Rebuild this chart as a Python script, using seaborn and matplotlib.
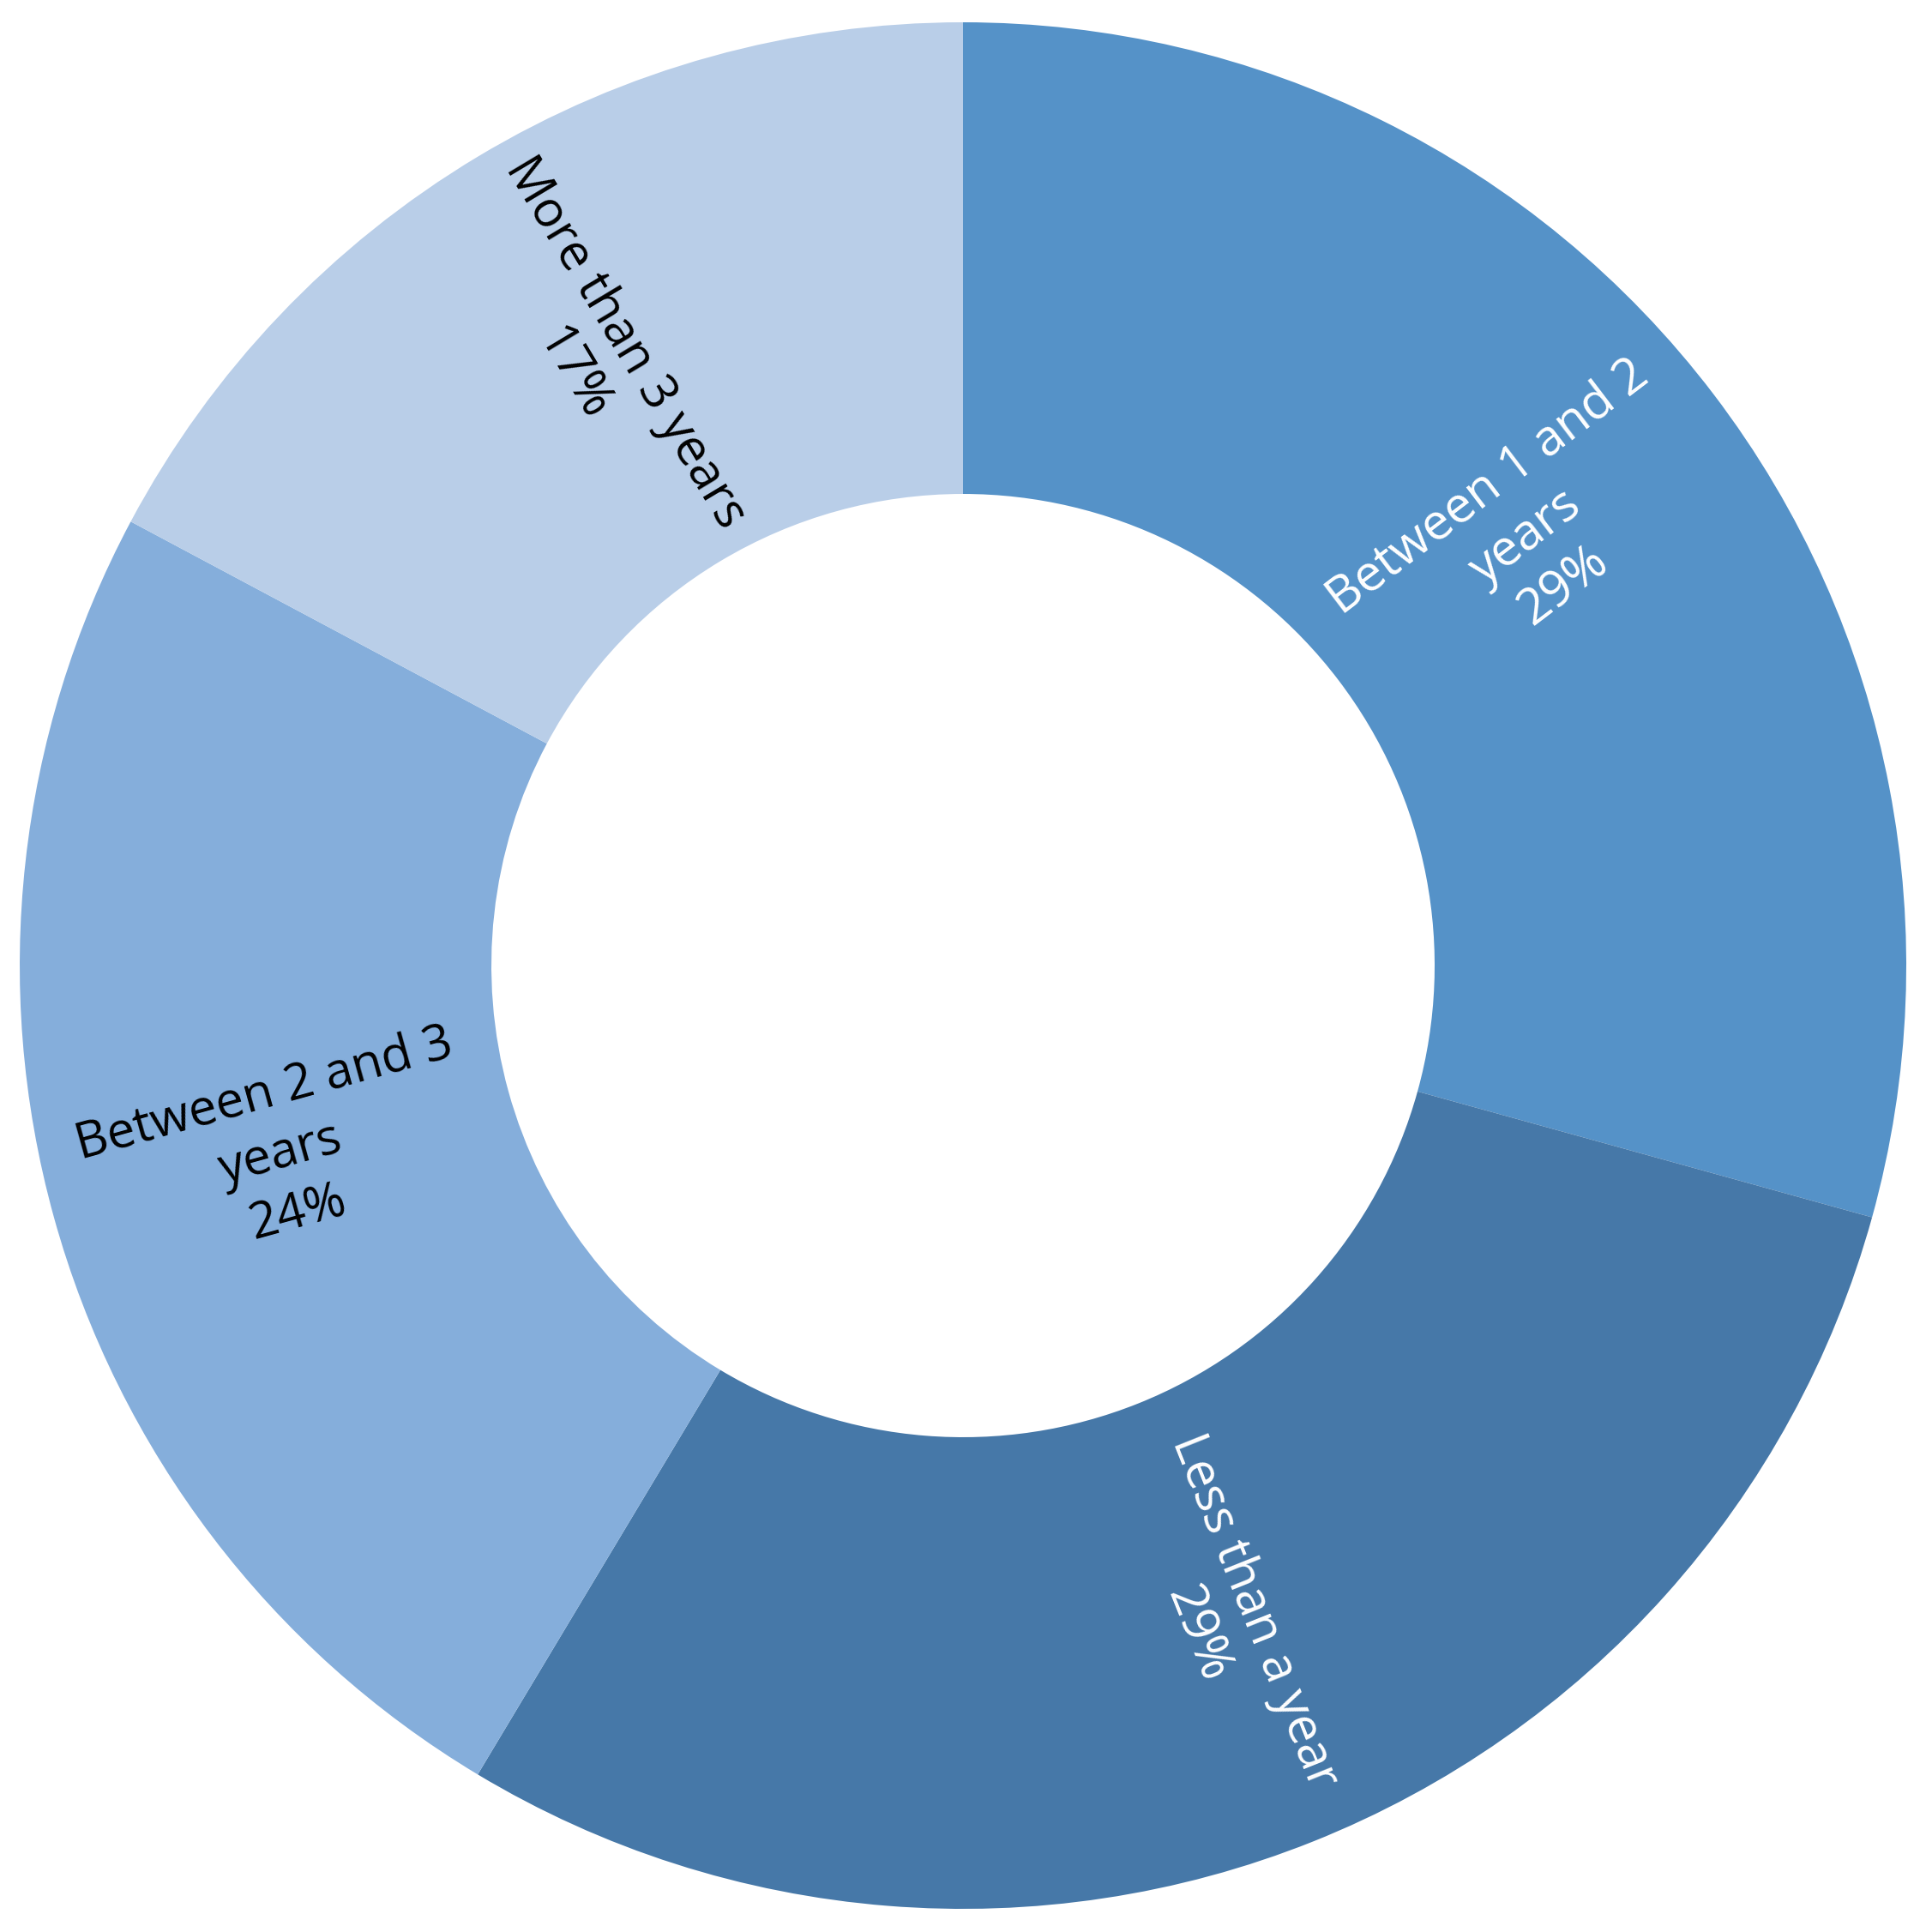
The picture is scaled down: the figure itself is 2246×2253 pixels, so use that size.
import numpy as np
import matplotlib
matplotlib.use("Agg")
import matplotlib.pyplot as plt
import seaborn as sns

sns.set_style("white")
plt.rcParams['font.family'] = ['Open Sans', 'DejaVu Sans']

# share of respondents (%), clockwise from 12 o'clock
labels = ['Between 1 and 2\nyears', 'Less than a year', 'Between 2 and 3\nyears', 'More than 3 years']
shares = [29.3, 29.3, 24.2, 17.2]
colors = ['#5592C8', '#4678A8', '#85AEDB', '#B9CEE8']
text_colors = ['white', 'white', 'black', 'black']

fig = plt.figure(figsize=(22.46, 22.53), dpi=100)
ax = fig.add_axes([0, 0, 1, 1])

wedges, _ = ax.pie(shares, colors=colors, startangle=90, counterclock=False,
                   radius=1.0, wedgeprops=dict(width=0.5, edgecolor='none'))

total = sum(shares)
for w, lab, val, tc in zip(wedges, labels, shares, text_colors):
    mid = (w.theta1 + w.theta2) / 2.0
    r = 0.75
    x, y = r * np.cos(np.radians(mid)), r * np.sin(np.radians(mid))
    # radial labels, kept readable (never upside down)
    rot = (mid + 180) % 360 - 180
    if rot > 90:
        rot -= 180
    elif rot < -90:
        rot += 180
    ax.text(x, y, f"{lab}\n{round(val / total * 100):.0f}%", ha='center', va='center',
            rotation=rot, rotation_mode='anchor', color=tc, fontsize=42,
            linespacing=1.3, multialignment='center')

ax.set_aspect('auto')
ax.set_xlim(-1123 / 1100, (2246 - 1123) / 1100)
ax.set_ylim(-(2253 - 1126) / 1100, 1126 / 1100)
ax.axis('off')

fig.savefig('out.png', dpi=100, facecolor='white')
